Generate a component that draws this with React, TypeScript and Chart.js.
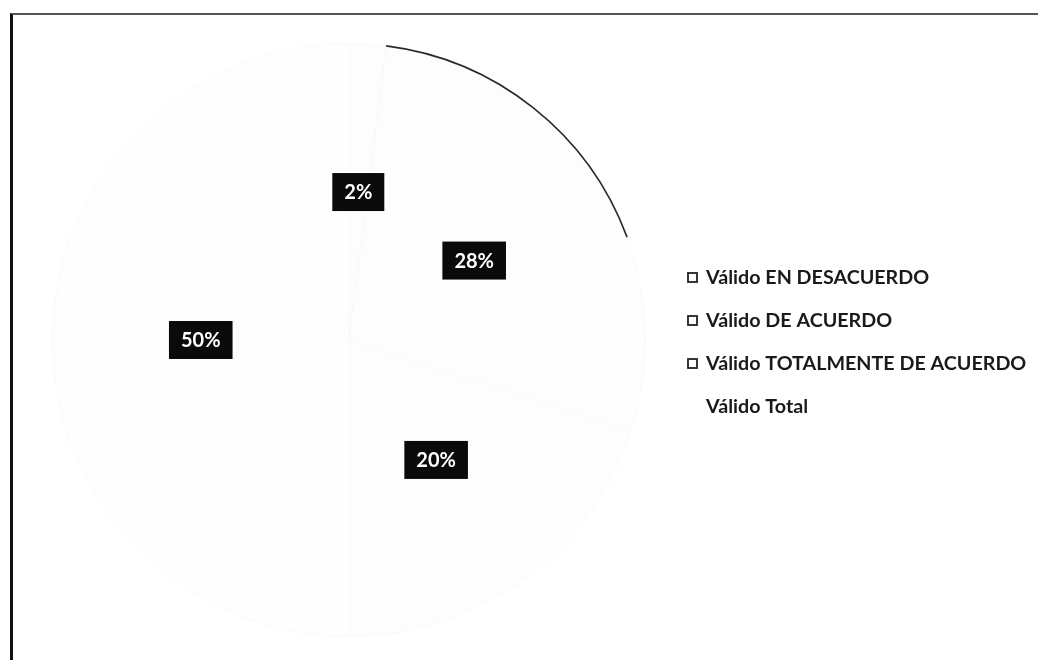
import React, { useEffect, useRef } from "react";
import { Chart, registerables } from "chart.js";

Chart.register(...registerables);

const categories = [
  "Válido EN DESACUERDO",
  "Válido DE ACUERDO",
  "Válido TOTALMENTE DE ACUERDO",
  "Válido Total",
];
const percentages = [2, 28, 20, 50];
const sliceColors = ["#fdfdfd", "#fdfdfd", "#fdfdfd", "#fefefe"];
const markerStroke = ["#222222", "#222222", "#222222", "rgba(0,0,0,0)"];

const FONT = "Lato, 'Open Sans', sans-serif";

const labelPlugin = {
  id: "pctLabels",
  afterDatasetsDraw(chart: any) {
    const ctx = chart.ctx;
    const meta = chart.getDatasetMeta(0);
    // faint scanned outer arc on the DE ACUERDO slice
    const a1: any = meta.data[1];
    if (a1) {
      const p = a1.getProps(["x", "y", "startAngle", "endAngle", "outerRadius"], true);
      ctx.save();
      ctx.strokeStyle = "#2a2a2a";
      ctx.lineWidth = 1.6;
      ctx.beginPath();
      ctx.arc(p.x, p.y, p.outerRadius, p.startAngle, p.startAngle + (p.endAngle - p.startAngle) * 0.62);
      ctx.stroke();
      ctx.restore();
    }
    ctx.save();
    ctx.font = `bold 20px ${FONT}`;
    ctx.textAlign = "center";
    ctx.textBaseline = "middle";
    meta.data.forEach((arc: any, i: number) => {
      const c = arc.getCenterPoint();
      const txt = percentages[i] + "%";
      const w = ctx.measureText(txt).width + 24;
      const h = 38;
      ctx.fillStyle = "#0a0a0a";
      ctx.fillRect(c.x - w / 2, c.y - h / 2, w, h);
      ctx.fillStyle = "#ffffff";
      ctx.fillText(txt, c.x, c.y + 1);
    });
    ctx.restore();
  },
};

const legendPlugin = {
  id: "customLegend",
  afterDraw(chart: any) {
    const ctx = chart.ctx;
    const x0 = 692;
    const y0 = 277;
    const step = 43;
    ctx.save();
    ctx.font = `bold 19.7px ${FONT}`;
    ctx.textBaseline = "middle";
    ctx.textAlign = "left";
    chart.data.labels.forEach((lab: string, i: number) => {
      const y = y0 + i * step;
      ctx.strokeStyle = markerStroke[i];
      ctx.lineWidth = 1.8;
      ctx.strokeRect(x0 - 4, y - 4, 9, 9);
      ctx.fillStyle = "#1a1a1a";
      ctx.fillText(lab, x0 + 14, y + 1);
    });
    ctx.restore();
  },
};

export default function App() {
  const ref = useRef<HTMLCanvasElement>(null);
  useEffect(() => {
    if (!ref.current) return;
    const chart = new Chart(ref.current, {
      type: "pie",
      data: {
        labels: categories,
        datasets: [
          {
            data: percentages,
            backgroundColor: sliceColors,
            borderColor: "#f9f9f9",
            borderWidth: 1,
          },
        ],
      },
      options: {
        animation: false,
        responsive: false,
        maintainAspectRatio: false,
        layout: { padding: { left: 52, top: 43, right: 392, bottom: 23 } },
        plugins: {
          legend: { display: false },
          tooltip: { enabled: false },
        },
      },
      plugins: [labelPlugin, legendPlugin],
    });
    return () => chart.destroy();
  }, []);

  return (
    <div style={{ position: "fixed", left: 0, top: 0, width: 1038, height: 660, background: "#fff" }}>
      <div
        style={{
          position: "absolute",
          left: 10,
          top: 13,
          width: 1030,
          height: 660,
          borderLeft: "3px solid #111",
          borderTop: "2px solid #555",
        }}
      />
      <canvas ref={ref} width={1038} height={660} style={{ position: "absolute", left: 0, top: 0 }} />
    </div>
  );
}
